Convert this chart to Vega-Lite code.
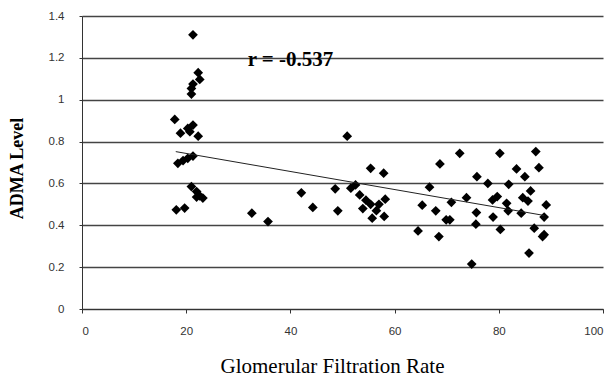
{
  "$schema": "https://vega.github.io/schema/vega-lite/v6.json",
  "width": 521,
  "height": 293,
  "autosize": {"type": "none"},
  "padding": {"left": 82, "top": 16, "right": 12, "bottom": 69},
  "background": "white",
  "config": {"view": {"stroke": null}},
  "datasets": {
    "points": [
      {"gfr": 21.3, "adma": 1.31}, {"gfr": 22.3, "adma": 1.129}, {"gfr": 22.6, "adma": 1.097},
      {"gfr": 21.3, "adma": 1.075}, {"gfr": 21.0, "adma": 1.054}, {"gfr": 21.0, "adma": 1.027},
      {"gfr": 17.8, "adma": 0.906}, {"gfr": 18.9, "adma": 0.84}, {"gfr": 20.3, "adma": 0.863},
      {"gfr": 21.3, "adma": 0.879}, {"gfr": 20.7, "adma": 0.847}, {"gfr": 22.3, "adma": 0.826},
      {"gfr": 18.4, "adma": 0.696}, {"gfr": 19.4, "adma": 0.709}, {"gfr": 20.3, "adma": 0.72},
      {"gfr": 21.3, "adma": 0.731}, {"gfr": 21.0, "adma": 0.585}, {"gfr": 22.0, "adma": 0.561},
      {"gfr": 22.6, "adma": 0.54}, {"gfr": 23.2, "adma": 0.53}, {"gfr": 22.0, "adma": 0.535},
      {"gfr": 18.1, "adma": 0.474}, {"gfr": 19.7, "adma": 0.482},
      {"gfr": 32.6, "adma": 0.458}, {"gfr": 35.7, "adma": 0.418}, {"gfr": 42.1, "adma": 0.555},
      {"gfr": 44.3, "adma": 0.485}, {"gfr": 48.6, "adma": 0.574}, {"gfr": 49.1, "adma": 0.469},
      {"gfr": 50.9, "adma": 0.826}, {"gfr": 51.6, "adma": 0.577}, {"gfr": 52.5, "adma": 0.593},
      {"gfr": 53.3, "adma": 0.545}, {"gfr": 53.9, "adma": 0.48}, {"gfr": 54.5, "adma": 0.52},
      {"gfr": 55.4, "adma": 0.672}, {"gfr": 55.4, "adma": 0.5}, {"gfr": 55.7, "adma": 0.434},
      {"gfr": 56.5, "adma": 0.47}, {"gfr": 57.0, "adma": 0.5}, {"gfr": 57.9, "adma": 0.649},
      {"gfr": 58.0, "adma": 0.442}, {"gfr": 58.2, "adma": 0.525},
      {"gfr": 64.5, "adma": 0.373}, {"gfr": 65.3, "adma": 0.496}, {"gfr": 66.7, "adma": 0.582},
      {"gfr": 67.9, "adma": 0.469}, {"gfr": 68.5, "adma": 0.346}, {"gfr": 68.7, "adma": 0.693},
      {"gfr": 69.9, "adma": 0.426}, {"gfr": 70.6, "adma": 0.426}, {"gfr": 70.9, "adma": 0.51},
      {"gfr": 72.5, "adma": 0.744}, {"gfr": 73.8, "adma": 0.532}, {"gfr": 74.8, "adma": 0.215},
      {"gfr": 75.6, "adma": 0.405}, {"gfr": 75.7, "adma": 0.461}, {"gfr": 75.8, "adma": 0.632},
      {"gfr": 77.9, "adma": 0.6}, {"gfr": 78.8, "adma": 0.521}, {"gfr": 78.9, "adma": 0.439},
      {"gfr": 79.7, "adma": 0.537}, {"gfr": 80.2, "adma": 0.744}, {"gfr": 80.3, "adma": 0.38},
      {"gfr": 81.5, "adma": 0.505}, {"gfr": 81.8, "adma": 0.469}, {"gfr": 81.9, "adma": 0.596},
      {"gfr": 83.4, "adma": 0.669}, {"gfr": 84.3, "adma": 0.458}, {"gfr": 84.6, "adma": 0.532},
      {"gfr": 85.0, "adma": 0.632}, {"gfr": 85.6, "adma": 0.516}, {"gfr": 85.8, "adma": 0.267},
      {"gfr": 86.1, "adma": 0.564}, {"gfr": 86.8, "adma": 0.386}, {"gfr": 87.1, "adma": 0.752},
      {"gfr": 87.7, "adma": 0.675}, {"gfr": 88.4, "adma": 0.346}, {"gfr": 88.7, "adma": 0.355},
      {"gfr": 88.7, "adma": 0.439}, {"gfr": 89.1, "adma": 0.497}
    ],
    "trend": [
      {"gfr": 18.0, "adma": 0.752},
      {"gfr": 88.7, "adma": 0.447}
    ],
    "note": [
      {"gfr": 31.8, "adma": 1.19, "text": "r = -0.537"}
    ]
  },
  "layer": [
    {
      "data": {"name": "points"},
      "mark": {"type": "point", "shape": "diamond", "filled": true, "color": "black", "size": 95, "opacity": 1},
      "encoding": {
        "x": {
          "field": "gfr", "type": "quantitative",
          "scale": {"domain": [0, 100], "nice": false},
          "axis": {
            "values": [0, 20, 40, 60, 80, 100],
            "grid": false,
            "domainColor": "#333", "tickColor": "#333", "tickSize": 4,
            "labelPadding": 12, "labelFont": "Liberation Sans", "labelFontSize": 11.5, "labelColor": "#333",
            "title": "Glomerular Filtration Rate",
            "titleFont": "Liberation Serif", "titleFontSize": 21, "titleFontWeight": "normal", "titleColor": "black",
            "titleX": 250, "titleY": 57, "titleBaseline": "middle", "titleAlign": "center"
          }
        },
        "y": {
          "field": "adma", "type": "quantitative",
          "scale": {"domain": [0, 1.4], "nice": false},
          "axis": {
            "values": [0, 0.2, 0.4, 0.6, 0.8, 1, 1.2, 1.4],
            "format": "~g",
            "grid": true, "gridColor": "#444", "gridWidth": 1.3,
            "domainColor": "#333", "tickColor": "#333", "tickSize": 3,
            "labelPadding": 15, "labelFont": "Liberation Sans", "labelFontSize": 11.5, "labelColor": "#333",
            "title": "ADMA Level",
            "titleFont": "Liberation Serif", "titleFontSize": 18, "titleFontWeight": "bold", "titleColor": "black",
            "titleX": -65, "titleY": 152, "titleAngle": -90, "titleBaseline": "middle", "titleAlign": "center"
          }
        }
      }
    },
    {
      "data": {"name": "trend"},
      "mark": {"type": "line", "color": "#222", "strokeWidth": 1},
      "encoding": {
        "x": {"field": "gfr", "type": "quantitative"},
        "y": {"field": "adma", "type": "quantitative"}
      }
    },
    {
      "data": {"name": "note"},
      "mark": {"type": "text", "align": "left", "baseline": "middle", "font": "Liberation Serif", "fontSize": 21, "fontWeight": "bold", "color": "black"},
      "encoding": {
        "x": {"field": "gfr", "type": "quantitative"},
        "y": {"field": "adma", "type": "quantitative"},
        "text": {"field": "text"}
      }
    }
  ]
}
